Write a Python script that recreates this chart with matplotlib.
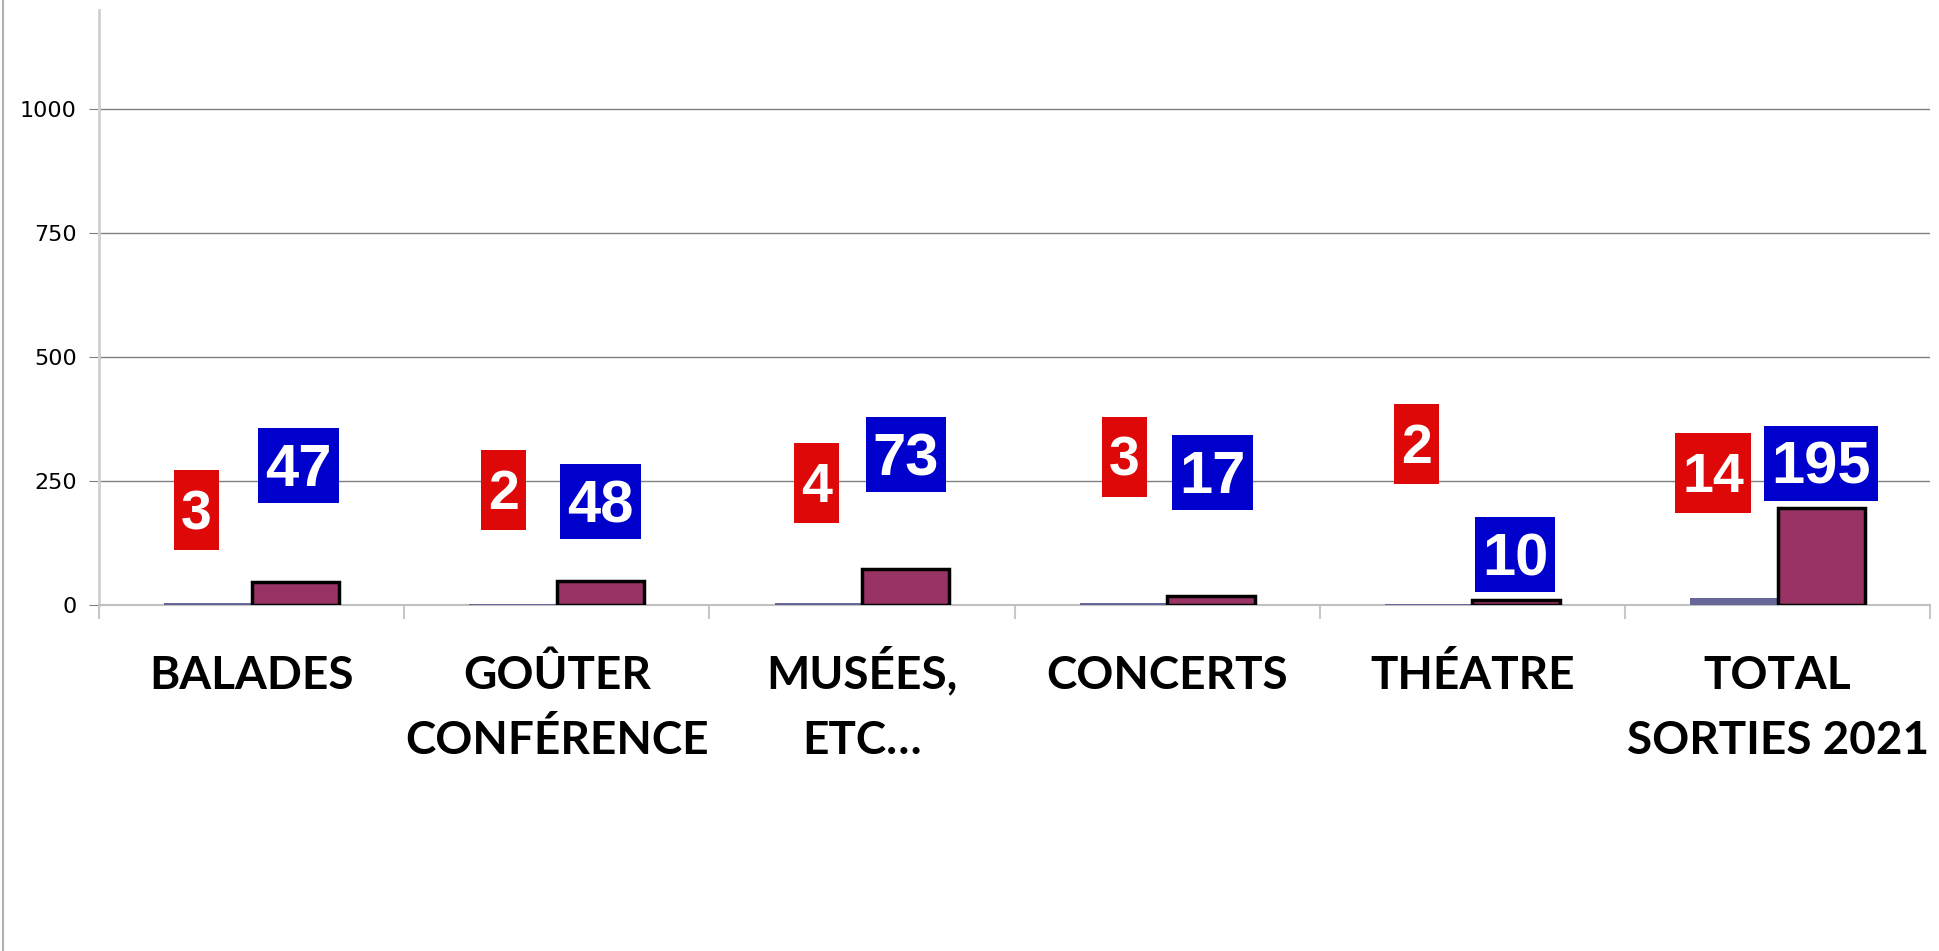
import matplotlib.pyplot as plt
from matplotlib.patches import Rectangle
from matplotlib.transforms import ScaledTranslation
import numpy as np

categories = ['BALADES', 'GOÛTER\nCONFÉRENCE', 'MUSÉES,\nETC…', 'CONCERTS', 'THÉATRE', 'TOTAL\nSORTIES 2021']
sorties = [3, 2, 4, 3, 2, 14]
participants = [47, 48, 73, 17, 10, 195]

# étiquettes déplacées à la main dans le graphique d'origine
red_lab_dx = [-0.18, -0.175, -0.149, -0.14, -0.183, -0.211]
red_lab_y = [191, 232, 246, 299, 325, 266]
blue_lab_dx = [0.154, 0.144, 0.144, 0.148, 0.14, 0.142]
blue_lab_y = [281, 208, 303, 266, 101, 286]

fig = plt.figure(figsize=(19.4, 9.51), dpi=100)
ax = fig.add_axes([0.051, 0.364, 0.944, 0.6255])

x = np.arange(len(categories))
w = 0.286
ax.bar(x - w/2, sorties, w, color='#666699', zorder=3)
ax.bar(x + w/2, participants, w, color='#993366', edgecolor='black', linewidth=2.5, zorder=3)

ax.set_xlim(-0.5, len(categories) - 0.5)
ax.set_ylim(0, 1200)
ax.set_yticks([0, 250, 500, 750, 1000])
ax.yaxis.grid(True, color='#808080', linewidth=1)
ax.set_axisbelow(True)
ax.tick_params(axis='y', labelsize=16, length=7, color='#808080', pad=9)

ax.set_xticks(x)
ax.set_xticklabels([])
ax.tick_params(axis='x', length=0)
ax.set_xticks(np.arange(len(categories) + 1) - 0.5, minor=True)
ax.tick_params(axis='x', which='minor', length=10, color='#C8C8C8', width=1.5)

for s in ['top', 'right']:
    ax.spines[s].set_visible(False)
ax.spines['left'].set_color('#D0D0D0')
ax.spines['left'].set_linewidth(2)
ax.spines['bottom'].set_color('#C0C0C0')
ax.spines['bottom'].set_linewidth(1.5)

# noms des catégories, une ligne à la fois
for i, cat in enumerate(categories):
    for k, line in enumerate(cat.split('\n')):
        ax.text(x[i], -0.1412 - k * 0.1093, line, transform=ax.get_xaxis_transform(),
                ha='center', va='baseline', fontsize=33, fontweight='bold', family='Lato')

# étiquettes de valeurs dans des boîtes colorées (texte un peu descendu pour centrer les chiffres)
shift = ax.transData + ScaledTranslation(0, -0.05, fig.dpi_scale_trans)
labels = []
for i in range(len(categories)):
    xa, ya = x[i] + red_lab_dx[i], red_lab_y[i]
    t1 = ax.text(xa, ya, str(sorties[i]), ha='center', va='center', transform=shift,
                 color='white', fontsize=40, fontweight='bold', family='Liberation Sans', zorder=6)
    labels.append((t1, xa, ya, '#DE0808', 80))
    xa, ya = x[i] + blue_lab_dx[i], blue_lab_y[i]
    t2 = ax.text(xa, ya, str(participants[i]), ha='center', va='center', transform=shift,
                 color='white', fontsize=43, fontweight='bold', family='Liberation Sans', zorder=6)
    labels.append((t2, xa, ya, '#0000CC', 75))

fig.canvas.draw()
inv = ax.transData.inverted()
for t, xa, ya, col, h in labels:
    bw = t.get_window_extent().width + 14
    cx, cy = ax.transData.transform((xa, ya))
    (x0, y0), (x1, y1) = inv.transform([(cx - bw/2, cy - h/2), (cx + bw/2, cy + h/2)])
    ax.add_patch(Rectangle((x0, y0), x1 - x0, y1 - y0, facecolor=col, edgecolor='none', zorder=5))

fig.add_artist(plt.Line2D([0.0015, 0.0015], [0, 1], color='#B0B0B0', linewidth=1.5))

plt.savefig('out.png', dpi=100)
